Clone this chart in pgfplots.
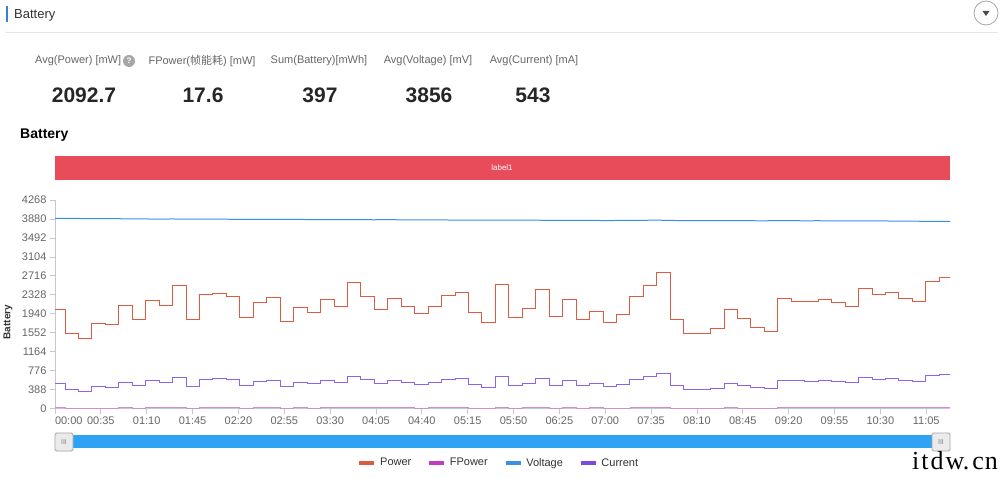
\documentclass[border=0pt]{standalone}
\usepackage{fontspec}
\setmainfont{Liberation Sans}
\newfontfamily\cjk{Noto Sans CJK SC}
\newfontfamily\wmfont{Liberation Serif}
\usepackage{pgfplots}
\pgfplotsset{compat=1.18}
\usepackage{pgfplotstable}

\definecolor{powerc}{HTML}{DD5B40}
\definecolor{fpowerc}{HTML}{C03CC0}
\definecolor{fpline}{HTML}{D58AD5}
\definecolor{voltc}{HTML}{3D8EEA}
\definecolor{currc}{HTML}{7B4BE0}
\definecolor{currline}{HTML}{8C62EE}
\definecolor{bandc}{HTML}{E84B5A}
\definecolor{slidec}{HTML}{2FA3F3}
\definecolor{txtc}{HTML}{333333}
\definecolor{lblc}{HTML}{666666}
\definecolor{axc}{HTML}{C4C8D2}

% x: one unit per sampling step (first step is short); p/f/v/c = Power, FPower, Voltage, Current
\pgfplotstableread{
x       p     f   v     c
0       2036  17  3895  518
0.7435  1532  13  3892  396
1.7435  1437  12  3890  361
2.7435  1744  15  3888  449
3.7435  1716  14  3887  436
4.7435  2118  18  3885  539
5.7435  1824  15  3882  470
6.7435  2220  19  3880  572
7.7435  2111  18  3878  539
8.7435  2526  21  3880  647
9.7435  1817  15  3877  463
10.7435 2336  20  3876  606
11.7435 2356  20  3878  610
12.7435 2295  19  3875  592
13.7435 1858  16  3872  477
14.7435 2165  18  3874  559
15.7435 2267  19  3872  586
16.7435 1791  15  3870  457
17.7435 2070  17  3871  531
18.7435 1968  16  3869  511
19.7435 2234  19  3868  572
20.7435 2098  18  3866  539
21.7435 2581  22  3868  661
22.7435 2301  19  3865  592
23.7435 2036  17  3864  518
24.7435 2246  19  3866  579
25.7435 2083  17  3863  531
26.7435 1954  16  3861  497
27.7435 2083  17  3862  539
28.7435 2308  19  3860  606
29.7435 2383  20  3858  620
30.7435 1968  16  3857  504
31.7435 1756  15  3855  443
32.7435 2546  21  3859  654
33.7435 1858  16  3856  477
34.7435 2042  17  3854  525
35.7435 2430  20  3855  627
36.7435 1886  16  3852  484
37.7435 2234  19  3853  572
38.7435 1832  15  3850  470
39.7435 1995  17  3851  511
40.7435 1770  15  3848  449
41.7435 1934  16  3849  497
42.7435 2301  19  3851  606
43.7435 2526  21  3853  654
44.7435 2791  23  3856  722
45.7435 1832  15  3850  470
46.7435 1540  13  3847  402
47.7435 1540  13  3846  402
48.7435 1642  14  3845  423
49.7435 2030  17  3848  525
50.7435 1846  15  3846  477
51.7435 1662  14  3844  436
52.7435 1580  13  3843  409
53.7435 2246  19  3846  586
54.7435 2199  18  3845  572
55.7435 2192  18  3843  565
56.7435 2240  19  3844  579
57.7435 2172  18  3842  559
58.7435 2097  17  3840  539
59.7435 2451  21  3842  634
60.7435 2342  20  3840  606
61.7435 2370  20  3839  620
62.7435 2246  19  3837  586
63.7435 2199  18  3835  565
64.7435 2601  22  3832  681
65.7435 2676  22  3830  695
66.54   2676  22  3830  695
}\battery

\newcommand{\fs}[1]{\fontsize{#1pt}{#1pt}\selectfont}

\begin{document}
\begin{tikzpicture}[x=1pt,y=1pt]
\useasboundingbox (0,0) rectangle (1000,477);
\fill[white] (0,0) rectangle (1000,477);

% header
\fill[voltc!90!black] (6,455) rectangle (8,471);
\node[anchor=west,text=txtc,inner sep=0] at (14,462) {\fs{13}Battery};
\draw[black!10,line width=1pt] (6,444) -- (998,444);
\draw[black!35,fill=white,line width=0.8pt] (986,464) circle (12);
\fill[black!70] (982.5,466) -- (989.5,466) -- (986,461) -- cycle;

% summary row
\begin{scope}[every node/.style={inner sep=0,text=lblc}]
\node[anchor=west] at (35,416) {\fs{11}Avg(Power) [mW]};
\fill[black!35] (129,416) circle (6);
\node[text=white] at (129,416) {\fs{8}\bfseries ?};
\node at (202,416) {\fs{11}FPower({\cjk 帧能耗}) [mW]};
\node at (319,416) {\fs{11}Sum(Battery)[mWh]};
\node at (428,416) {\fs{11}Avg(Voltage) [mV]};
\node at (534,416) {\fs{11}Avg(Current) [mA]};
\end{scope}
\begin{scope}[every node/.style={inner sep=0,text=black!85}]
\node at (84,382) {\fs{21}\bfseries 2092.7};
\node at (203,382) {\fs{21}\bfseries 17.6};
\node at (320,382) {\fs{21}\bfseries 397};
\node at (429,382) {\fs{21}\bfseries 3856};
\node at (533,382) {\fs{21}\bfseries 543};
\end{scope}

\node[anchor=west,inner sep=0,text=black] at (20,342) {\fs{14}\bfseries Battery};

% label band
\fill[bandc] (55,297) rectangle (950,321);
\node[text=white,inner sep=0] at (502,309) {\fs{8}label1};

% y axis title
\node[rotate=90,inner sep=0,text=txtc] at (8,155) {\fs{10}\bfseries Battery};

\begin{axis}[
  at={(55pt,68.3pt)}, anchor=south west,
  width=895pt, height=208.7pt, scale only axis,
  xmin=0, xmax=66.54, ymin=0, ymax=4268,
  axis lines*=left,
  axis line style={axc, line width=0.8pt},
  tick align=outside,
  major tick length=5pt,
  tick style={axc, line width=0.8pt},
  ytick={0,388,...,4268},
  xtick={0,3.409,6.818,10.227,13.636,17.045,20.454,23.863,27.272,30.681,34.09,37.499,40.908,44.317,47.726,51.135,54.544,57.953,61.362,64.771},
  xticklabels={\makebox[0pt][l]{00:00},00:35,01:10,01:45,02:20,02:55,03:30,04:05,04:40,05:15,05:50,06:25,07:00,07:35,08:10,08:45,09:20,09:55,10:30,11:05},
  ticklabel style={font=\fs{11}, text=lblc},
  /pgf/number format/assume math mode=true,
  /pgf/number format/1000 sep={},
  legend columns=4,
  legend style={at={(0.496,-0.260)}, anchor=center, draw=none, fill=none,
    font=\fs{11}, text=txtc,
    /tikz/every odd column/.append style={column sep=2pt},
    /tikz/every even column/.append style={column sep=14pt}},
  legend image code/.code={\draw[line width=3.5pt] (0pt,0pt) -- (15pt,0pt);},
  every axis plot/.append style={line width=1pt, no markers},
]
\addplot[powerc, const plot] table[x=x,y=p] {\battery};
\addlegendentry{Power}
\addplot[fpline, const plot, line width=0.8pt, legend image code/.code={\draw[fpowerc,line width=3.5pt] (0pt,0pt) -- (15pt,0pt);}] table[x=x,y=f] {\battery};
\addlegendentry{FPower}
\addplot[voltc, sharp plot] table[x=x,y=v] {\battery};
\addlegendentry{Voltage}
\addplot[currline, const plot, legend image code/.code={\draw[currc,line width=3.5pt] (0pt,0pt) -- (15pt,0pt);}] table[x=x,y=c] {\battery};
\addlegendentry{Current}
\end{axis}

% data zoom slider
\fill[slidec] (55,29) rectangle (950,42);
\foreach \hx in {55,932}{
  \draw[black!35,fill=black!8,rounded corners=1.5pt,line width=0.8pt] (\hx,26) rectangle (\hx+18,44);
  \node[text=black!50,inner sep=0] at (\hx+9,35) {\fs{7}III};
}

% watermark
\node[anchor=base east,inner sep=0,text=black] at (998,8) {\wmfont\fs{26}i\hspace{2pt}t\hspace{2pt}d\hspace{2pt}w.\hspace{3pt}c\hspace{1pt}n};
\end{tikzpicture}
\end{document}
